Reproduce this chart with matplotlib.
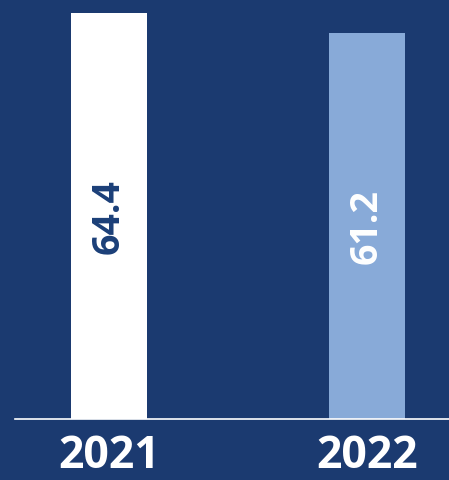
import matplotlib.pyplot as plt

years = ["2021", "2022"]
values = [64.4, 61.2]
bar_colors = ["#ffffff", "#88aad8"]
label_colors = ["#1b3f78", "#ffffff"]

BG = "#1b3a70"

fig = plt.figure(figsize=(4.49, 4.80), dpi=100, facecolor=BG)
ax = fig.add_axes([15 / 449, 1 - 419 / 480, 434 / 449, 419 / 480])
ax.set_facecolor(BG)

x = list(range(len(years)))
bars = ax.bar(x, values, width=0.295, color=bar_colors)

for bar, val, col in zip(bars, values, label_colors):
    ax.text(bar.get_x() + bar.get_width() / 2, val / 2, f"{val:.1f}",
            rotation=90, ha="center", va="center", color=col,
            fontsize=27, fontweight="bold", family="Open Sans")

ax.set_xlim(-0.364, 1.318)
ax.set_ylim(0, 66.5)
ax.set_yticks([])
ax.set_xticks(x, years)
ax.tick_params(axis="x", length=0, pad=11, labelsize=32, labelcolor="white")
for lbl in ax.get_xticklabels():
    lbl.set_fontweight("bold")
    lbl.set_family("Open Sans")

for side in ["top", "left", "right"]:
    ax.spines[side].set_visible(False)
ax.spines["bottom"].set_color("white")
ax.spines["bottom"].set_linewidth(1.2)

fig.savefig("out.png", dpi=100, facecolor=BG)
